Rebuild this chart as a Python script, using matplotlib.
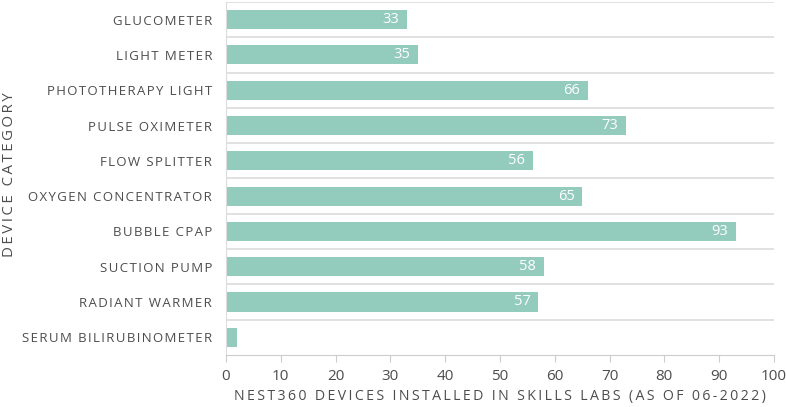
import numpy as np
import matplotlib.pyplot as plt

categories = ['GLUCOMETER', 'LIGHT METER', 'PHOTOTHERAPY LIGHT', 'PULSE OXIMETER',
              'FLOW SPLITTER', 'OXYGEN CONCENTRATOR', 'BUBBLE CPAP', 'SUCTION PUMP',
              'RADIANT WARMER', 'SERUM BILIRUBINOMETER']
devices = [33, 35, 66, 73, 56, 65, 93, 58, 57, 2]
x_ticks = [0, 10, 20, 30, 40, 50, 60, 70, 80, 90, 100]

BAR_COLOR = '#93cbbc'
TEXT_COLOR = '#4d4d4d'
GRID_COLOR = '#dcdcdc'

plt.rcParams['font.family'] = ['Open Sans', 'DejaVu Sans']


def spaced(s, sep='\u200a'):
    # fake letter spacing
    return sep.join(s)


def main():
    fig = plt.figure(figsize=(7.86, 4.07), dpi=100)
    ax = fig.add_axes([0.2875, 0.128, 0.6972, 0.867])

    y = np.arange(len(categories))
    ax.barh(y, devices, height=0.54, color=BAR_COLOR, zorder=2)

    for yi, v in zip(y, devices):
        if v >= 10:
            ax.text(v - 1.4, yi, str(v), color='white', ha='right', va='center',
                    fontsize=10.5, zorder=3)

    ax.set_ylim(len(categories) - 0.5, -0.5)
    ax.set_xlim(0, 100)

    # band separators
    for b in np.arange(-0.5, len(categories) - 0.5, 1.0):
        ax.axhline(b, color=GRID_COLOR, lw=1.2, zorder=1)

    ax.set_yticks(y)
    ax.set_yticklabels([spaced(c) for c in categories], fontsize=9.5, color=TEXT_COLOR)
    ax.tick_params(axis='y', length=0, pad=10)

    ax.set_xticks(x_ticks)
    ax.set_xticklabels([str(t) for t in x_ticks], fontsize=11, color=TEXT_COLOR)
    ax.tick_params(axis='x', length=5, color='#cccccc', pad=5)

    for side in ['top', 'right']:
        ax.spines[side].set_visible(False)
    ax.spines['bottom'].set_color('#cccccc')
    ax.spines['left'].set_color(GRID_COLOR)

    ax.set_xlabel(spaced('NEST360 DEVICES INSTALLED IN SKILLS LABS (AS OF 06-2022)', '\u2009'),
                  fontsize=10.2, color=TEXT_COLOR, labelpad=4)
    fig.text(0.012, 0.572, spaced('DEVICE CATEGORY', '\u2009'), rotation=90,
             fontsize=10.8, color=TEXT_COLOR, ha='center', va='center')

    fig.savefig('out.png', dpi=100)


if __name__ == '__main__':
    main()
